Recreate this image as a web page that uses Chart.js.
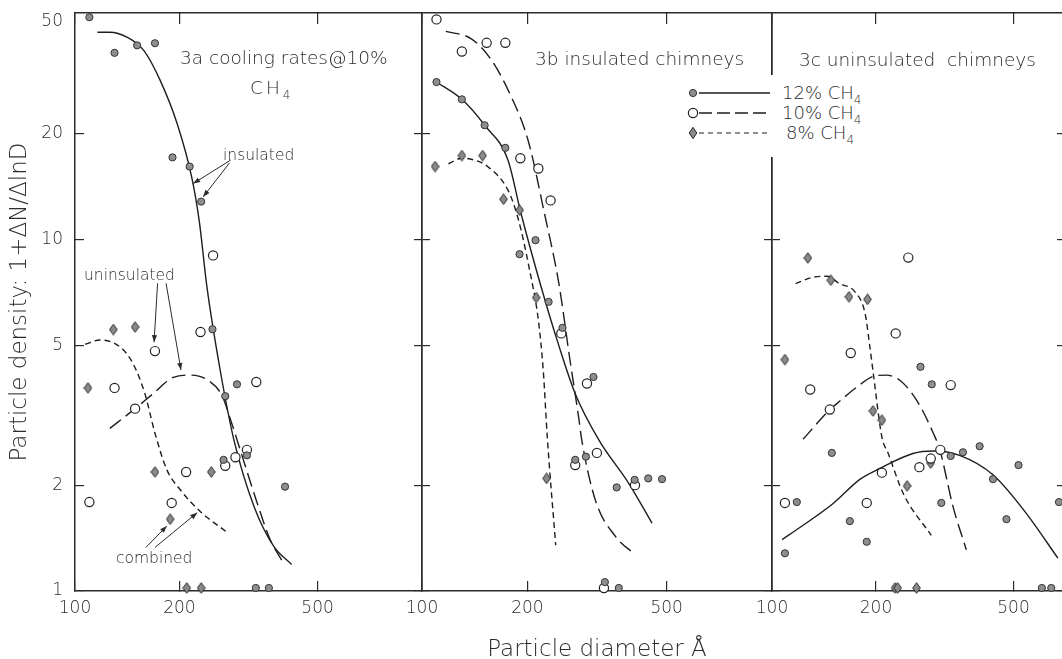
<!DOCTYPE html>
<html>
<head>
<meta charset="utf-8">
<script src="https://cdn.jsdelivr.net/npm/chart.js@4.4.0/dist/chart.umd.min.js"></script>
<style>
html, body { margin: 0; padding: 0; background: #fff; overflow: hidden; }
#wrap { position: relative; width: 1062px; height: 659px; overflow: hidden;
        font-family: 'DejaVu Sans', sans-serif; font-weight: 300; color: #2b2b2b; }
#wrap canvas { position: absolute; left: 0; top: 0; }
.lbl { position: absolute; white-space: pre; line-height: 20px; font-size: 18.5px; }
.note { font-size: 15.5px; }
sub { font-size: 12px; vertical-align: -5px; line-height: 0; }
#legend { position: absolute; left: 684px; top: 75px; width: 186px; height: 82px; background: #fff; }
#legend .row { position: absolute; left: 0; height: 20px; width: 186px; }
#legend svg { position: absolute; left: 2px; top: 0; }
#legend span { position: absolute; top: 0; line-height: 20px; font-size: 18px; white-space: pre; color: #2b2b2b; }
</style>
</head>
<body>
<div id="wrap">
  <canvas id="ca" width="1070" height="659"></canvas>
  <canvas id="cb" width="1070" height="659"></canvas>
  <canvas id="cc" width="1070" height="659"></canvas>

  <div class="lbl" style="left:180px;top:48px">3a cooling rates@10%</div>
  <div class="lbl" style="left:250px;top:78px;letter-spacing:3px">CH<sub>4</sub></div>
  <div class="lbl" style="left:535px;top:49px">3b insulated chimneys</div>
  <div class="lbl" style="left:799px;top:50px">3c uninsulated  chimneys</div>
  <div class="lbl note" style="left:223px;top:145px">insulated</div>
  <div class="lbl note" style="left:84px;top:265px">uninsulated</div>
  <div class="lbl note" style="left:116px;top:548px">combined</div>

  <div id="legend">
    <div class="row" style="top:8px">
      <svg width="90" height="20"><line x1="13" y1="10" x2="84" y2="10" stroke="#1e1e1e" stroke-width="1.3"/>
        <circle cx="7" cy="10" r="3.6" fill="#8e8e8e" stroke="#333" stroke-width="1"/></svg>
      <span style="left:98px">12% CH<sub>4</sub></span>
    </div>
    <div class="row" style="top:28px">
      <svg width="90" height="20"><line x1="13" y1="10" x2="84" y2="10" stroke="#1e1e1e" stroke-width="1.3" stroke-dasharray="13 5"/>
        <circle cx="7" cy="10" r="4.6" fill="#fff" stroke="#222" stroke-width="1.2"/></svg>
      <span style="left:98px">10% CH<sub>4</sub></span>
    </div>
    <div class="row" style="top:48px">
      <svg width="90" height="20"><line x1="13" y1="10" x2="84" y2="10" stroke="#1e1e1e" stroke-width="1.2" stroke-dasharray="5 4"/>
        <polygon points="7,4.3 10.8,10 7,15.7 3.2,10" fill="#8a8a8a" stroke="#2a2a2a" stroke-width="1"/></svg>
      <span style="left:102px">8% CH<sub>4</sub></span>
    </div>
  </div>
</div>

<script>
// ---------- axes ----------
const xTickVals = [100, 200, 500];
const yTickVals = [1, 2, 5, 10, 20, 50];
// where each y label is printed: the drawn axis tops out near 44, the "50" sits just under the edge
const yTickAt = [1, 2, 5, 10, 20, 41.5];

// ---------- 3a cooling rates @ 10% CH4 ----------
const aInsX = [110, 130, 151, 170, 191, 214, 231, 249, 271, 293, 268, 313, 403, 332, 362];
const aInsY = [42.8, 33.9, 35.6, 36.1, 17.1, 16.1, 12.8, 5.55, 3.58, 3.87, 2.36, 2.43, 1.98, 1.02, 1.02];
const aUninsX = [110, 130, 149, 170, 230, 250, 333, 209, 190, 271, 290, 313];
const aUninsY = [1.79, 3.78, 3.30, 4.81, 5.45, 9.0, 3.93, 2.18, 1.78, 2.27, 2.40, 2.52];
const aCombX = [109, 129, 149, 170, 188, 247, 210, 231];
const aCombY = [3.78, 5.54, 5.63, 2.18, 1.60, 2.18, 1.02, 1.02];

const aInsCurveX = [116, 126, 141, 158, 176, 197, 217, 228, 240, 262, 287, 328, 374, 421];
const aInsCurveY = [38.8, 38.8, 37.6, 34.4, 28.3, 21.3, 15.0, 11.3, 7.32, 4.25, 2.69, 1.74, 1.34, 1.19];
const aUninsCurveX = [126, 149, 168, 192, 215, 240, 265, 281, 300, 335, 365, 395];
const aUninsCurveY = [2.90, 3.30, 3.64, 4.05, 4.11, 3.99, 3.60, 3.06, 2.50, 1.78, 1.40, 1.22];
const aCombCurveX = [107, 118, 135, 147, 159, 170, 184, 201, 230, 274];
const aCombCurveY = [5.03, 5.17, 4.94, 4.43, 3.64, 2.81, 2.21, 1.94, 1.68, 1.47];

// arrows from the notes (data coordinates)
const arrowFromX = [281, 279, 173, 183, 160, 170];
const arrowFromY = [16.8, 16.5, 7.5, 7.5, 1.33, 1.33];
const arrowToX = [219, 234, 169, 202, 184, 225];
const arrowToY = [14.4, 13.2, 5.1, 4.25, 1.53, 1.67];

// ---------- 3b insulated chimneys ----------
const b12X = [110, 130, 151, 173, 211, 190, 230, 252, 309, 274, 294, 360, 405, 443, 485, 333, 365];
const b12Y = [28.0, 25.0, 21.1, 18.2, 9.94, 9.07, 6.64, 5.60, 4.06, 2.36, 2.41, 1.97, 2.07, 2.09, 2.08, 1.06, 1.02];
const b10X = [110, 130, 153, 173, 191, 215, 233, 250, 296, 274, 316, 406, 331];
const b10Y = [42.2, 34.2, 36.2, 36.2, 17.0, 15.9, 12.9, 5.40, 3.89, 2.28, 2.47, 2.00, 1.02];
const b8X = [109, 130, 149, 171, 190, 212, 227];
const b8Y = [16.1, 17.3, 17.3, 13.0, 12.1, 6.83, 2.09];

const b12CurveX = [110, 130, 151, 176, 192, 219, 245, 274, 320, 390, 454];
const b12CurveY = [28.0, 25.0, 21.1, 16.8, 11.8, 7.32, 5.05, 3.64, 2.69, 2.02, 1.56];
const b10CurveX = [117, 138, 157, 180, 201, 224, 246, 264, 281, 286, 313, 357, 406];
const b10CurveY = [39.0, 37.2, 32.6, 25.4, 19.1, 11.8, 7.50, 4.62, 3.06, 2.69, 1.81, 1.43, 1.27];
const b8CurveX = [119, 130, 141, 154, 176, 188, 203, 215, 222, 228, 241];
const b8CurveY = [16.4, 17.0, 16.8, 16.1, 13.8, 11.5, 8.17, 5.89, 4.25, 2.74, 1.35];

// ---------- 3c uninsulated chimneys ----------
const c12X = [118, 109, 149, 168, 188, 269, 290, 309, 329, 357, 399, 436, 517, 477, 677, 604, 643];
const c12Y = [1.79, 1.28, 2.47, 1.58, 1.38, 4.34, 3.87, 1.78, 2.42, 2.48, 2.58, 2.08, 2.28, 1.60, 1.79, 1.02, 1.02];
const c10X = [109, 129, 147, 169, 248, 228, 329, 188, 208, 267, 288, 307];
const c10Y = [1.78, 3.74, 3.28, 4.75, 8.87, 5.40, 3.85, 1.78, 2.17, 2.25, 2.38, 2.52];
const c8X = [109, 127, 148, 167, 189, 196, 208, 246, 288, 227, 231, 262];
const c8Y = [4.55, 8.85, 7.65, 6.86, 6.75, 3.25, 3.06, 1.99, 2.31, 1.02, 1.02, 1.02];

const c12CurveX = [107, 121, 150, 180, 205, 256, 293, 349, 436, 545, 672];
const c12CurveY = [1.40, 1.52, 1.77, 2.08, 2.23, 2.46, 2.50, 2.43, 2.14, 1.66, 1.24];
const c10CurveX = [123, 147, 154, 176, 197, 214, 234, 262, 293, 306, 334, 365];
const c10CurveY = [2.70, 3.28, 3.41, 3.80, 4.08, 4.11, 3.98, 3.49, 2.81, 2.52, 1.74, 1.31];
const c8CurveX = [117, 132, 144, 157, 174, 186, 192, 197, 208, 217, 240, 289];
const c8CurveY = [7.48, 7.81, 7.85, 7.48, 7.08, 6.15, 4.94, 4.06, 2.74, 2.46, 1.89, 1.44];

// ---------- styling ----------
const INK = '#2b2b2b';
Chart.defaults.font.family = "'DejaVu Sans', sans-serif";
Chart.defaults.font.weight = 300;
Chart.defaults.color = INK;
Chart.defaults.animation = false;

const diamondImg = (() => {
  const c = document.createElement('canvas');
  c.width = 9; c.height = 12;
  const g = c.getContext('2d');
  g.beginPath();
  g.moveTo(4.5, 0.7); g.lineTo(8.3, 6); g.lineTo(4.5, 11.3); g.lineTo(0.7, 6); g.closePath();
  g.fillStyle = '#8a8a8a'; g.fill();
  g.strokeStyle = '#2a2a2a'; g.lineWidth = 1; g.stroke();
  return c;
})();

const pts = (xs, ys) => xs.map((v, i) => ({x: v, y: ys[i]}));

function marks(xs, ys, kind) {
  const base = {data: pts(xs, ys), showLine: false, clip: false};
  if (kind === 'filled') return {...base, pointStyle: 'circle', pointRadius: 3.6,
    backgroundColor: '#8e8e8e', borderColor: '#333', borderWidth: 1};
  if (kind === 'open') return {...base, pointStyle: 'circle', pointRadius: 4.6,
    backgroundColor: '#fff', borderColor: '#222', borderWidth: 1.2};
  return {...base, pointStyle: diamondImg, pointRadius: 5};
}

function curve(xs, ys, dash) {
  return {data: pts(xs, ys), showLine: true, pointRadius: 0, borderColor: '#1e1e1e',
    borderWidth: 1.4, borderDash: dash, cubicInterpolationMode: 'monotone', clip: false, fill: false};
}

const SOLID = [], LONG = [14, 6], SHORT = [6, 4];

// fixed box sizes so the three panels share one frame
function noPad(s) { s.paddingLeft = 0; s.paddingRight = 0; s.paddingTop = 0; s.paddingBottom = 0; }

function xAxis(pos, max, extra) {
  return Object.assign({
    type: 'logarithmic', position: pos, min: 100, max: max,
    afterBuildTicks: s => { s.ticks = xTickVals.map(v => ({value: v})); },
    ticks: {display: pos === 'bottom', autoSkip: false, maxRotation: 0, padding: 17,
      font: {size: 17}, callback: v => String(v)},
    grid: {drawOnChartArea: false, drawTicks: true, tickLength: pos === 'bottom' ? -10 : -11,
      color: INK, lineWidth: 1.2},
    border: {display: true, color: INK, width: 1.5},
    afterFit: s => { s.height = pos === 'bottom' ? 68 : 13; noPad(s); }
  }, extra || {});
}

function yAxis(pos, width, tl, withLabels, extra) {
  return Object.assign({
    type: 'logarithmic', position: pos, min: 1, max: 44,
    afterBuildTicks: s => {
      const at = withLabels ? yTickAt : yTickAt.slice(0, 5);
      s.ticks = at.map(v => ({value: v}));
    },
    ticks: {display: withLabels, autoSkip: false, padding: 21, font: {size: 17},
      callback: (v, i) => String(yTickVals[i])},
    grid: {drawOnChartArea: false, drawTicks: true, tickLength: tl, lineWidth: 1.2,
      color: c => (c.index === 5 ? 'rgba(0,0,0,0)' : INK)},
    border: {display: true, color: INK, width: 1.5},
    afterFit: s => { s.width = width; noPad(s); }
  }, extra || {});
}

const arrowPlugin = {
  id: 'arrows',
  afterDatasetsDraw(chart) {
    const {ctx} = chart;
    const sx = chart.scales.x, sy = chart.scales.y;
    ctx.save();
    ctx.strokeStyle = INK; ctx.fillStyle = INK; ctx.lineWidth = 1;
    arrowFromX.forEach((fx, i) => {
      const x0 = sx.getPixelForValue(fx), y0 = sy.getPixelForValue(arrowFromY[i]);
      const x1 = sx.getPixelForValue(arrowToX[i]), y1 = sy.getPixelForValue(arrowToY[i]);
      const a = Math.atan2(y1 - y0, x1 - x0);
      ctx.beginPath(); ctx.moveTo(x0, y0); ctx.lineTo(x1, y1); ctx.stroke();
      ctx.beginPath();
      ctx.moveTo(x1, y1);
      ctx.lineTo(x1 - 7 * Math.cos(a) + 2.6 * Math.sin(a), y1 - 7 * Math.sin(a) - 2.6 * Math.cos(a));
      ctx.lineTo(x1 - 7 * Math.cos(a) - 2.6 * Math.sin(a), y1 - 7 * Math.sin(a) + 2.6 * Math.cos(a));
      ctx.closePath(); ctx.fill();
    });
    ctx.restore();
  }
};

function panel(id, datasets, scales, padding, plugins) {
  return new Chart(document.getElementById(id), {
    type: 'scatter',
    data: {datasets},
    options: {
      responsive: false, events: [],
      layout: {padding},
      plugins: {legend: {display: false}, tooltip: {enabled: false}},
      scales
    },
    plugins: plugins || []
  });
}

// 3a: y labels + title on the left, inward ticks; outward ticks on the shared edge with 3b
panel('ca', [
  marks(aInsX, aInsY, 'filled'),
  marks(aUninsX, aUninsY, 'open'),
  marks(aCombX, aCombY, 'diamond'),
  curve(aInsCurveX, aInsCurveY, SOLID),
  curve(aUninsCurveX, aUninsCurveY, LONG),
  curve(aCombCurveX, aCombCurveY, SHORT)
], {
  x: xAxis('bottom', 1000),
  xt: xAxis('top', 1000),
  y: yAxis('left', 75, -9, true, {
    title: {display: true, text: 'Particle density: 1+ΔN/ΔlnD', font: {size: 23},
      padding: {top: 6, bottom: 0}}
  }),
  yr: yAxis('right', 10, 8, false)
}, {left: 0, right: 638, top: 0, bottom: 0}, [arrowPlugin]);

// 3b
panel('cb', [
  marks(b12X, b12Y, 'filled'),
  marks(b10X, b10Y, 'open'),
  marks(b8X, b8Y, 'diamond'),
  curve(b12CurveX, b12CurveY, SOLID),
  curve(b10CurveX, b10CurveY, LONG),
  curve(b8CurveX, b8CurveY, SHORT)
], {
  x: xAxis('bottom', 1000, {
    title: {display: true, text: 'Particle diameter Å', font: {size: 23},
      padding: {top: 0, bottom: -5}}
  }),
  xt: xAxis('top', 1000),
  y: yAxis('left', 10, 8, false),
  yr: yAxis('right', 10, 8, false)
}, {left: 412, right: 288, top: 0, bottom: 0});

// 3c: the picture is cut at the right, the frame sits just past the edge
panel('cc', [
  marks(c12X, c12Y, 'filled'),
  marks(c10X, c10Y, 'open'),
  marks(c8X, c8Y, 'diamond'),
  curve(c12CurveX, c12CurveY, SOLID),
  curve(c10CurveX, c10CurveY, LONG),
  curve(c8CurveX, c8CurveY, SHORT)
], {
  x: xAxis('bottom', 700),
  xt: xAxis('top', 700),
  y: yAxis('left', 10, 8, false),
  yr: yAxis('right', 6, -7, false)
}, {left: 762, right: 0, top: 0, bottom: 0});
</script>
</body>
</html>
